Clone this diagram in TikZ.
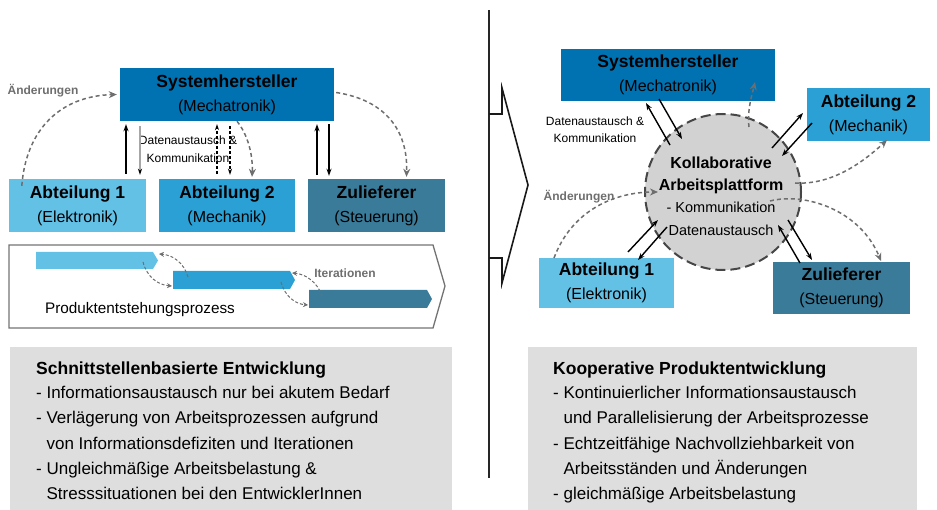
\documentclass[tikz,border=0pt]{standalone}
\usepackage{fontspec}
\setmainfont{Liberation Sans}
\usetikzlibrary{arrows.meta,calc}
\definecolor{sysblue}{RGB}{0,114,178}
\definecolor{lblue}{RGB}{99,193,230}
\definecolor{mblue}{RGB}{42,160,212}
\definecolor{zteal}{RGB}{58,123,153}
\definecolor{dgray}{RGB}{110,110,110}
\definecolor{panel}{RGB}{222,222,222}
\definecolor{circfill}{RGB}{210,210,210}
\definecolor{circline}{RGB}{70,70,70}
\newcommand\fsz[2]{\fontsize{#1}{#2}\selectfont}
\begin{document}
\begin{tikzpicture}[x=1pt,y=-1pt,
  box/.style={rectangle, inner sep=0pt, align=center, text=black, font=\fsz{16}{24}},
  gdash/.style={draw=dgray, line width=1.5pt, dash pattern=on 4pt off 3pt, -{Stealth[length=8pt,width=7pt]}},
  itarrow/.style={draw=dgray, line width=1pt, dash pattern=on 3pt off 2pt, -{Stealth[length=5pt,width=5pt]}},
  blk/.style={draw=black, line width=1.4pt, -{Stealth[length=7pt,width=5pt]}},
  blkd/.style={draw=black, line width=1.2pt, dash pattern=on 3pt off 2pt, -{Stealth[length=6pt,width=4pt]}},
  lgr/.style={draw=black!35, line width=1.2pt, -{Stealth[length=6pt,width=4pt,color=black]}},
  lbl/.style={inner sep=0pt, text=dgray, font=\fsz{12}{14}\bfseries},
  small/.style={inner sep=0pt, align=center, font=\fsz{12}{18}},
  btxt/.style={inner sep=0pt, anchor=base west, font=\fsz{17}{25}},
  bhead/.style={inner sep=0pt, anchor=base west, font=\fsz{17.5}{25}\bfseries}
]
\useasboundingbox (0,0) rectangle (937,510);

% ---------------- left side ----------------
\node[box, fill=sysblue, minimum width=214pt, minimum height=53pt] (sysL) at (227,94.5)
  {{\fsz{17.5}{24}\bfseries Systemhersteller}\\(Mechatronik)};
\node[box, fill=lblue, minimum width=137pt, minimum height=53pt] (a1L) at (77.5,205.5)
  {{\fsz{17.5}{24}\bfseries Abteilung 1}\\(Elektronik)};
\node[box, fill=mblue, minimum width=136pt, minimum height=53pt] (a2L) at (227,205.5)
  {{\fsz{17.5}{24}\bfseries Abteilung 2}\\(Mechanik)};
\node[box, fill=zteal, minimum width=137pt, minimum height=53pt] (zuL) at (376.5,205.5)
  {{\fsz{17.5}{24}\bfseries Zulieferer}\\(Steuerung)};

\node[lbl] (aendL) at (43,91) {Änderungen};
\node[small] (datL) at (188,149) {Datenaustausch \&\\Kommunikation};

% vertical arrows
\coordinate (x1) at (126,0);
\coordinate (x2) at (140,0);
\coordinate (x3) at (217,0);
\coordinate (x4) at (230,0);
\coordinate (x5) at (317,0);
\coordinate (x6) at (329,0);
\draw[blk, shorten <=5pt, shorten >=3pt] (a1L.north -| x1) -- (sysL.south -| x1);
\draw[lgr, shorten <=5pt, shorten >=4pt] (sysL.south -| x2) -- (a1L.north -| x2);
\draw[blkd, shorten <=5pt, shorten >=3pt] (a2L.north -| x3) -- (sysL.south -| x3);
\draw[blkd, shorten <=5pt, shorten >=4pt] (sysL.south -| x4) -- (a2L.north -| x4);
\draw[blk, shorten <=4pt, shorten >=3pt] (zuL.north -| x5) -- (sysL.south -| x5);
\draw[blk, shorten <=3pt, shorten >=3pt] (sysL.south -| x6) -- (zuL.north -| x6);

% dashed change arrows
\draw[gdash] ([xshift=13pt,yshift=-7pt]a1L.north west) .. controls (26,130) and (60,96) .. ([xshift=-3pt,yshift=0pt]sysL.west);
\draw[gdash] ([xshift=10pt]sysL.south) .. controls (248,135) and (253,155) .. ([xshift=25pt,yshift=2pt]a2L.north);
\draw[gdash] ([xshift=2pt,yshift=2pt]sysL.east) .. controls (385,100) and (408,130) .. ([xshift=30pt,yshift=2pt]zuL.north);

% process box
\draw[draw=black!55, line width=1.3pt] (9,245) -- (433,245) -- (445,286) -- (433,328) -- (9,328) -- cycle;
\fill[lblue] (36,252) -- (153,252) -- (158,260.5) -- (153,269) -- (36,269) -- cycle;
\fill[mblue] (173,271) -- (290,271) -- (295,280) -- (290,289) -- (173,289) -- cycle;
\fill[zteal] (309,290) -- (427,290) -- (432,299) -- (427,308) -- (309,308) -- cycle;
\coordinate (i1a) at (143,262); \coordinate (i1b) at (172,286);
\coordinate (i2a) at (188,277); \coordinate (i2b) at (159,254);
\coordinate (i3a) at (281,282); \coordinate (i3b) at (308,305);
\coordinate (i4a) at (322,296); \coordinate (i4b) at (292,273);
\draw[itarrow] (i1a) .. controls (147,277) and (158,285) .. (i1b);
\draw[itarrow] (i2a) .. controls (184,263) and (173,255) .. (i2b);
\draw[itarrow] (i3a) .. controls (285,297) and (296,304) .. (i3b);
\draw[itarrow] (i4a) .. controls (318,283) and (306,274) .. (i4b);
\node[lbl] (iter) at (345,273) {Iterationen};
\node[inner sep=0pt, font=\fsz{15.3}{18}] (pep) at (140,310) {Produktentstehungsprozess};

% bottom left panel
\fill[panel] (10,347) rectangle (452,510);
\node[bhead] (hL) at (36,374) {Schnittstellenbasierte Entwicklung};
\node[btxt] (l1) at (36,399) {- Informationsaustausch nur bei akutem Bedarf};
\node[btxt] (l2) at (36,424) {- Verlägerung von Arbeitsprozessen aufgrund};
\node[btxt] (l3) at (36,449) {\phantom{- }von Informationsdefiziten und Iterationen};
\node[btxt] (l4) at (36,474) {- Ungleichmäßige Arbeitsbelastung \&};
\node[btxt] (l5) at (36,499) {\phantom{- }Stresssituationen bei den EntwicklerInnen};

% ---------------- divider ----------------
\draw[line width=1.5pt, draw=black!85] (489,10) -- (489,478);
\draw[line width=1.6pt, line join=miter, draw=black!90] (489,114) -- (502,114) -- (502,88) -- (528,185) -- (502,283) -- (502,258) -- (489,258);

% ---------------- right side ----------------
\node[circle, minimum size=156pt, inner sep=0pt, fill=circfill, draw=circline, line width=2pt, dash pattern=on 10pt off 5pt] (circ) at (723,192) {};
\node[inner sep=0pt, align=center, font=\fsz{14.5}{22.3}] (circtxt) at (721,196)
  {{\fsz{16}{22.3}\bfseries Kollaborative}\\{\fsz{16}{22.3}\bfseries Arbeitsplattform}\\- Kommunikation\\Datenaustausch};

\node[box, fill=sysblue, minimum width=214pt, minimum height=52pt] (sysR) at (668,75)
  {{\fsz{17.5}{24}\bfseries Systemhersteller}\\(Mechatronik)};
\node[box, fill=mblue, minimum width=123pt, minimum height=53pt] (a2R) at (868.5,114.5)
  {{\fsz{17.5}{24}\bfseries Abteilung 2}\\(Mechanik)};
\node[box, fill=lblue, minimum width=135pt, minimum height=50pt] (a1R) at (606.5,283)
  {{\fsz{17.5}{24}\bfseries Abteilung 1}\\(Elektronik)};
\node[box, fill=zteal, minimum width=137pt, minimum height=52pt] (zuR) at (841.5,288)
  {{\fsz{17.5}{24}\bfseries Zulieferer}\\(Steuerung)};

\node[small, font=\fsz{12}{17}] (datR) at (595,130) {Datenaustausch \&\\Kommunikation};
\node[lbl] (aendR) at (579,197) {Änderungen};

% black exchange arrows
\coordinate (r1a) at (670,145); \coordinate (r1b) at (646,103);
\coordinate (r2a) at (659,99);  \coordinate (r2b) at (682,139);
\coordinate (r3a) at (772,148); \coordinate (r3b) at (803,113);
\coordinate (r4a) at (812,123); \coordinate (r4b) at (782,156);
\coordinate (r5a) at (628,252); \coordinate (r5b) at (658,220);
\coordinate (r6a) at (667,227); \coordinate (r6b) at (638,260);
\coordinate (r7a) at (800,263); \coordinate (r7b) at (778,225);
\coordinate (r8a) at (788,220); \coordinate (r8b) at (812,260);
\foreach \s/\t in {r1a/r1b,r2a/r2b,r3a/r3b,r4a/r4b,r5a/r5b,r6a/r6b,r7a/r7b,r8a/r8b}
  \draw[blk] (\s) -- (\t);

% dashed change arrows right
\coordinate (d1a) at (749,127); \coordinate (d1b) at (755,82);
\coordinate (d2a) at (554,258); \coordinate (d2b) at (658,192);
\coordinate (d3a) at (795,183); \coordinate (d3b) at (887,140);
\coordinate (d4a) at (770,201); \coordinate (d4b) at (881,261);
\draw[gdash] (d1a) .. controls (747,110) and (752,95) .. (d1b);
\draw[gdash] (d2a) .. controls (572,210) and (615,192) .. (d2b);
\draw[gdash] (d3a) .. controls (830,185) and (860,165) .. (d3b);
\draw[gdash] (d4a) .. controls (805,192) and (860,210) .. (d4b);

% bottom right panel
\fill[panel] (528,347) rectangle (917,510);
\node[bhead] (hR) at (553,374) {Kooperative Produktentwicklung};
\node[btxt] (m1) at (553,399) {- Kontinuierlicher Informationsaustausch};
\node[btxt] (m2) at (553,424) {\phantom{- }und Parallelisierung der Arbeitsprozesse};
\node[btxt] (m3) at (553,449) {- Echtzeitfähige Nachvollziehbarkeit von};
\node[btxt] (m4) at (553,474) {\phantom{- }Arbeitsständen und Änderungen};
\node[btxt] (m5) at (553,499) {- gleichmäßige Arbeitsbelastung};
\end{tikzpicture}
\end{document}
